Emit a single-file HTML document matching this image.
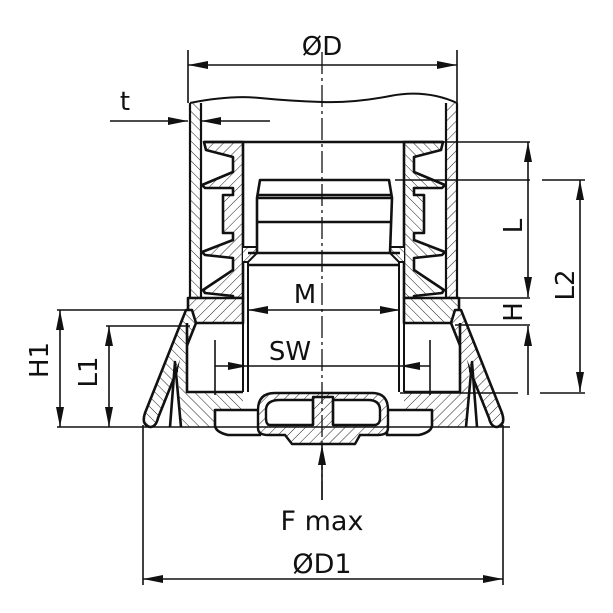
<!DOCTYPE html>
<html><head><meta charset="utf-8"><style>
html,body{margin:0;padding:0;background:#fff}
svg{display:block}
text{font-family:"DejaVu Sans","Liberation Sans",sans-serif;fill:#111}
</style></head><body>
<svg width="613" height="613" viewBox="0 0 613 613" xmlns="http://www.w3.org/2000/svg">
<defs>
<pattern id="h" width="7" height="7" patternUnits="userSpaceOnUse" patternTransform="rotate(45)">
<rect width="7" height="7" fill="#fff"/><line x1="0" y1="0" x2="0" y2="7" stroke="#222" stroke-width="1"/>
</pattern>
<pattern id="h2" width="7" height="7" patternUnits="userSpaceOnUse" patternTransform="rotate(-45)">
<rect width="7" height="7" fill="#fff"/><line x1="0" y1="0" x2="0" y2="7" stroke="#222" stroke-width="1"/>
</pattern>
<marker id="a" viewBox="0 0 20 8" refX="20" refY="4" markerWidth="20" markerHeight="8" markerUnits="userSpaceOnUse" orient="auto-start-reverse">
<path d="M0,0 L20,4 L0,8 Z" fill="#111"/></marker>
</defs>
<g stroke="#111" fill="none" stroke-linejoin="round">
<g id="half" stroke-width="2.6">
 <path d="M190,103 L190,298 L201,298 L201,103" fill="url(#h2)" stroke-width="2.2"/>
 <path d="M204,142 L243,142 L243,298 L233,298 L233,296 L205,293 L203,290 L233,270 L233,258 L205,255 L202,252 L233,240 L233,233 L223,233 L223,195 L233,195 L233,188 L205,188 L202,185 L233,172 L233,157 L206,150 Z" fill="url(#h)"/>
 <path d="M243,247 L257,247 L257,253 L248,262 L243,262" fill="url(#h)" stroke-width="2"/>
 <path d="M188,298 L243,298 L243,323 L188,323 Z" fill="url(#h)"/>
 <!-- cone wall -->
 <path d="M186,310 L192,310 L196,323 L158,418 Q156,427 150,427 Q141,425 145,413 Z" fill="url(#h2)"/>
 <!-- inner hatched base -->
 <path d="M187,323 L187,392 L243,392 L243,412 L215,412 L215,427 L181,427 L178,370 Z" fill="url(#h2)" stroke="none"/>
 <path d="M187,323 L187,392 L243,392"/>
 <path d="M170,427 L175,362 L181,427" fill="#fff"/>
 <line x1="243" y1="262" x2="243" y2="392" stroke-width="2"/>
 <line x1="248" y1="262" x2="248" y2="392" stroke-width="2"/>
 <path d="M215,410 L260,410 L260,435 L228,435 Q215,432 215,425 Z" fill="#fff"/>
</g>
<use href="#half" transform="translate(647,0) scale(-1,1)"/>
<path d="M190,103 Q230,95 260,98 T322,102 T390,96 T457,103" stroke-width="2"/>
<g stroke-width="2.6">
 <path d="M257,253 L257,198 L260,180 L389,180 L392,198 L390,253"/>
 <line x1="257" y1="195" x2="392" y2="195"/>
 <line x1="257" y1="198" x2="392" y2="198"/>
 <line x1="257" y1="222" x2="390" y2="222"/>
 <line x1="248" y1="253" x2="400" y2="253"/>
 <line x1="248" y1="265" x2="400" y2="265"/>
 <line x1="204" y1="142" x2="443" y2="142"/>
</g>
<g stroke-width="2.4">
 <path d="M258,410 Q258,393 275,393 L372,393 Q388,393 388,410 L388,428 Q388,435 378,435 L360,435 L355,444 L292,444 L285,435 L268,435 Q258,435 258,428 Z" fill="url(#h)"/>
 <path d="M266,410 Q266,400 280,400 L313,400 L313,425 L270,425 Q266,425 266,418 Z M333,400 L368,400 Q380,400 380,410 L380,418 Q380,425 374,425 L333,425 Z" fill="#fff"/>
 <path d="M313,425 L313,397 L333,397 L333,425" fill="none"/>
</g>
<line x1="57" y1="427" x2="510" y2="427" stroke-width="1.6"/>
<line x1="322" y1="52" x2="322" y2="500" stroke-width="1.3" stroke-dasharray="22,4,3,4"/>
<g stroke-width="1.6">
 <line x1="188" y1="50" x2="188" y2="103"/><line x1="457" y1="50" x2="457" y2="103"/>
 <line x1="188" y1="65" x2="457" y2="65" marker-start="url(#a)" marker-end="url(#a)"/>
 <line x1="110" y1="121" x2="188" y2="121" marker-end="url(#a)"/>
 <line x1="270" y1="121" x2="201" y2="121" marker-end="url(#a)"/>
 <line x1="443" y1="142" x2="530" y2="142"/>
 <line x1="395" y1="180" x2="530" y2="180"/><line x1="542" y1="180" x2="585" y2="180"/>
 <line x1="455" y1="298" x2="530" y2="298"/><line x1="455" y1="325" x2="530" y2="325"/>
 <line x1="400" y1="393" x2="518" y2="393"/><line x1="540" y1="393" x2="585" y2="393"/>
 <line x1="528" y1="142" x2="528" y2="297" marker-start="url(#a)" marker-end="url(#a)"/>
 <line x1="528" y1="395" x2="528" y2="326" marker-end="url(#a)"/>
 <line x1="580" y1="180" x2="580" y2="392" marker-start="url(#a)" marker-end="url(#a)"/>
 <line x1="57" y1="310" x2="190" y2="310"/><line x1="106" y1="326" x2="190" y2="326"/>
 <line x1="60" y1="310" x2="60" y2="427" marker-start="url(#a)" marker-end="url(#a)"/>
 <line x1="109" y1="326" x2="109" y2="427" marker-start="url(#a)" marker-end="url(#a)"/>
 <line x1="248" y1="310" x2="400" y2="310" marker-start="url(#a)" marker-end="url(#a)"/>
 <line x1="215" y1="340" x2="215" y2="395"/><line x1="430" y1="340" x2="430" y2="395"/>
 <line x1="215" y1="366" x2="248" y2="366" marker-end="url(#a)"/>
 <line x1="430" y1="366" x2="400" y2="366" marker-end="url(#a)"/>
 <line x1="248" y1="366" x2="400" y2="366"/>
 <line x1="143" y1="425" x2="143" y2="585"/><line x1="503" y1="425" x2="503" y2="585"/>
 <line x1="143" y1="579" x2="503" y2="579" marker-start="url(#a)" marker-end="url(#a)"/>
 <line x1="322" y1="500" x2="322" y2="445" marker-end="url(#a)"/>
</g>
</g>
<text x="322" y="55" font-size="26" text-anchor="middle">ØD</text>
<text x="125" y="110" font-size="26" text-anchor="middle">t</text>
<text x="305" y="303" font-size="26" text-anchor="middle">M</text>
<text x="290" y="360" font-size="26" text-anchor="middle">SW</text>
<text x="322" y="530" font-size="27" text-anchor="middle">F max</text>
<text x="322" y="573" font-size="27" text-anchor="middle">ØD1</text>
<text transform="translate(522,226) rotate(-90)" font-size="26" text-anchor="middle">L</text>
<text transform="translate(522,312) rotate(-90)" font-size="26" text-anchor="middle">H</text>
<text transform="translate(574,285) rotate(-90)" font-size="26" text-anchor="middle">L2</text>
<text transform="translate(48,360) rotate(-90)" font-size="26" text-anchor="middle">H1</text>
<text transform="translate(97,372) rotate(-90)" font-size="26" text-anchor="middle">L1</text>
</svg>
</body></html>
